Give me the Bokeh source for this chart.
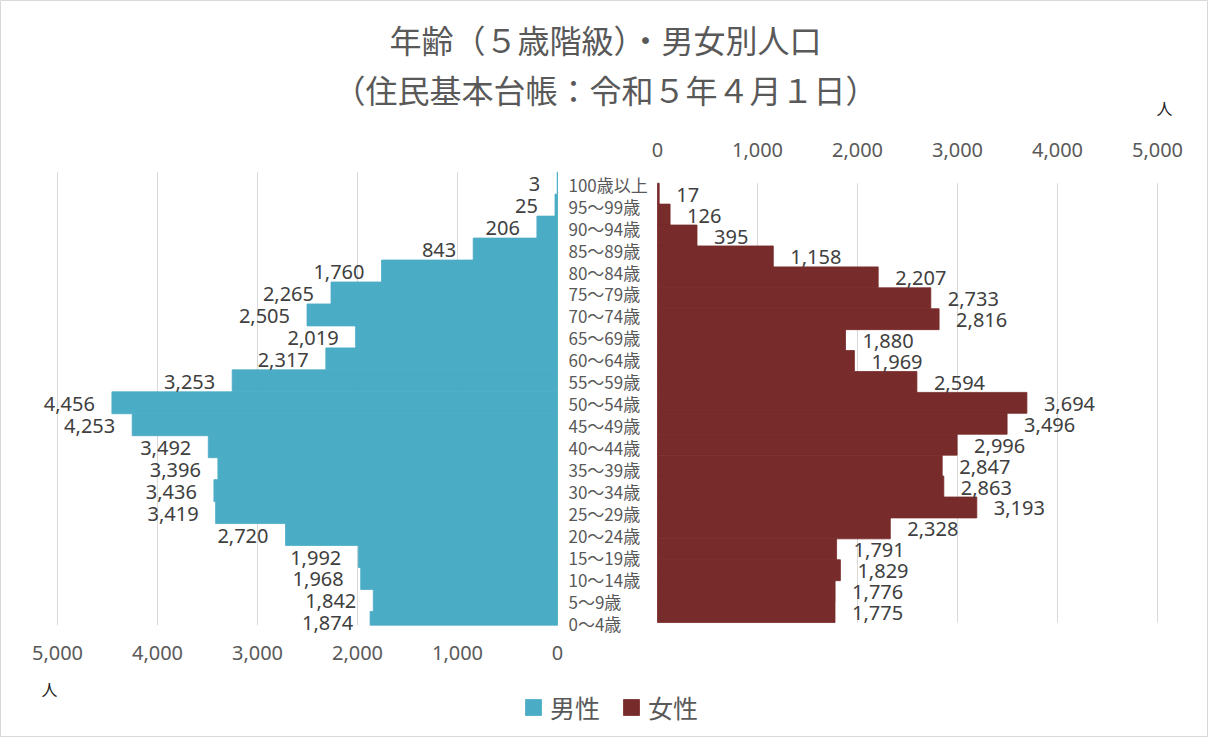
import numpy as np
from bokeh.plotting import figure
from bokeh.models import Range1d, LinearAxis, FixedTicker, ColumnDataSource, Legend, LegendItem
from bokeh.core.properties import value
from bokeh.embed import file_html
from bokeh.resources import INLINE

# ---------------- data (top row first) ----------------
categories = ["100歳以上", "95～99歳", "90～94歳", "85～89歳", "80～84歳", "75～79歳",
              "70～74歳", "65～69歳", "60～64歳", "55～59歳", "50～54歳", "45～49歳",
              "40～44歳", "35～39歳", "30～34歳", "25～29歳", "20～24歳", "15～19歳",
              "10～14歳", "5～9歳", "0～4歳"]
male = [3, 25, 206, 843, 1760, 2265, 2505, 2019, 2317, 3253, 4456, 4253,
        3492, 3396, 3436, 3419, 2720, 1992, 1968, 1842, 1874]
female = [17, 126, 395, 1158, 2207, 2733, 2816, 1880, 1969, 2594, 3694, 3496,
          2996, 2847, 2863, 3193, 2328, 1791, 1829, 1776, 1775]
ticks = [0, 1000, 2000, 3000, 4000, 5000]
tick_labels = ["0", "1,000", "2,000", "3,000", "4,000", "5,000"]
title_lines = ["年齢（５歳階級）・男女別人口", "（住民基本台帳：令和５年４月１日）"]
series_names = ["男性", "女性"]
unit_label = "人"

# ---------------- layout constants ----------------
W, H = 1208, 737
M = 8                      # page margin
GAP = 500                  # half gap between the two panels (data units)
male_top, male_row = 179.7, 21.96
fem_top, fem_row = 190.7, 20.92
male_clip = 632.7
n = len(categories)

MALE_C = "#4bacc6"
FEM_C = "#772b2a"
GRID_C = "#d9d9d9"
TXT_C = "#595959"
LBL_C = "#404040"

def px_to_u(px):
    return (px - 615) * 10

p = figure(width=W, height=H, output_backend="svg", toolbar_location=None,
           x_axis_type=None, y_axis_type=None, min_border=0,
           x_range=Range1d(px_to_u(M), px_to_u(M + W)),
           y_range=Range1d(n - (M + H - male_top) / male_row, n + (male_top - M) / male_row),
           background_fill_color="white", border_fill_color="white")
p.title_location = None
p.outline_line_color = GRID_C
p.extra_y_ranges = {
    "fem": Range1d(n - (M + H - fem_top) / fem_row, n + (fem_top - M) / fem_row),
    "py": Range1d(M + H, M),
}
p.extra_x_ranges = {"px": Range1d(M, M + W)}

idx = (n - 1 - np.arange(n)).astype(float)
male_a = np.array(male, dtype=float)
fem_a = np.array(female, dtype=float)
tick_a = np.array(ticks, dtype=float)
male_floor = n - (male_clip - male_top) / male_row

# gridlines
p.segment(x0=-GAP - tick_a, x1=-GAP - tick_a, y0=male_floor, y1=n,
          line_color=GRID_C, line_width=1)
p.segment(x0=GAP + tick_a, x1=GAP + tick_a, y0=0, y1=n, y_range_name="fem",
          line_color=GRID_C, line_width=1)

# bars
msrc = ColumnDataSource(dict(left=-GAP - male_a, right=np.full(n, -GAP, dtype=float),
                             bottom=np.maximum(idx, male_floor), top=idx + 1,
                             lx=-GAP - male_a, ly=idx + 0.5,
                             lab=[f"{v:,}" for v in male]))
fsrc = ColumnDataSource(dict(left=np.full(n, GAP, dtype=float), right=GAP + fem_a,
                             bottom=idx, top=idx + 1,
                             lx=GAP + fem_a, ly=idx + 0.5,
                             lab=[f"{v:,}" for v in female]))
rm = p.quad(left="left", right="right", bottom="bottom", top="top", source=msrc,
            fill_color=MALE_C, line_color=MALE_C, line_width=0.8)
rf = p.quad(left="left", right="right", bottom="bottom", top="top", source=fsrc,
            y_range_name="fem", fill_color=FEM_C, line_color=FEM_C, line_width=0.8)

# data labels
p.text(x="lx", y="ly", text="lab", source=msrc, x_offset=-17, y_offset=1,
       text_align="right", text_baseline="middle", text_font=value("Noto Sans"),
       text_font_size="20px", text_color=LBL_C)
p.text(x="lx", y="ly", text="lab", source=fsrc, x_offset=17, y_offset=1,
       y_range_name="fem", text_align="left", text_baseline="middle",
       text_font=value("Noto Sans"), text_font_size="20px", text_color=LBL_C)

# category labels
p.text(x=np.full(n, px_to_u(576)), y=idx + 0.5, text=categories, y_offset=1,
       text_align="left", text_baseline="middle", text_font=value("Noto Sans CJK JP"),
       text_font_size="17px", text_color=TXT_C)

# title
p.text(x=[613, 613], y=[46, 96], text=title_lines, x_range_name="px", y_range_name="py",
       text_align="center", text_baseline="middle", text_font=value("Noto Sans CJK JP"),
       text_font_size="32px", text_color=TXT_C)

# unit labels
p.text(x=[1172, 57], y=[115, 696], text=[unit_label, unit_label], x_range_name="px",
       y_range_name="py", text_align="center", text_baseline="middle",
       text_font=value("Noto Sans CJK JP"), text_font_size="16px", text_color="#222222")

# axes
def make_axis(pos, loc):
    ax = LinearAxis(ticker=FixedTicker(ticks=list(pos)),
                    major_label_overrides={float(v): l for v, l in zip(pos, tick_labels)},
                    y_range_name="py", fixed_location=loc)
    ax.axis_line_color = None
    ax.major_tick_line_color = None
    ax.minor_tick_line_color = None
    ax.major_tick_out = 0
    ax.major_tick_in = 0
    ax.major_label_standoff = 0
    ax.major_label_text_font = "Noto Sans"
    ax.major_label_text_font_size = "20px"
    ax.major_label_text_color = TXT_C
    return ax

p.add_layout(make_axis(-GAP - tick_a, 653), "below")
p.add_layout(make_axis(GAP + tick_a, 164), "above")

# legend
legend = Legend(items=[LegendItem(label=series_names[0], renderers=[rm]),
                       LegendItem(label=series_names[1], renderers=[rf])],
                orientation="horizontal", location=(523, 12),
                glyph_width=20, glyph_height=20, label_standoff=7, spacing=21,
                padding=0, margin=0, border_line_color=None, background_fill_alpha=0,
                label_text_font="Noto Sans CJK JP", label_text_font_size="25px",
                label_text_color=TXT_C)
p.add_layout(legend)

open("out.html", "w").write(file_html(p, INLINE))
